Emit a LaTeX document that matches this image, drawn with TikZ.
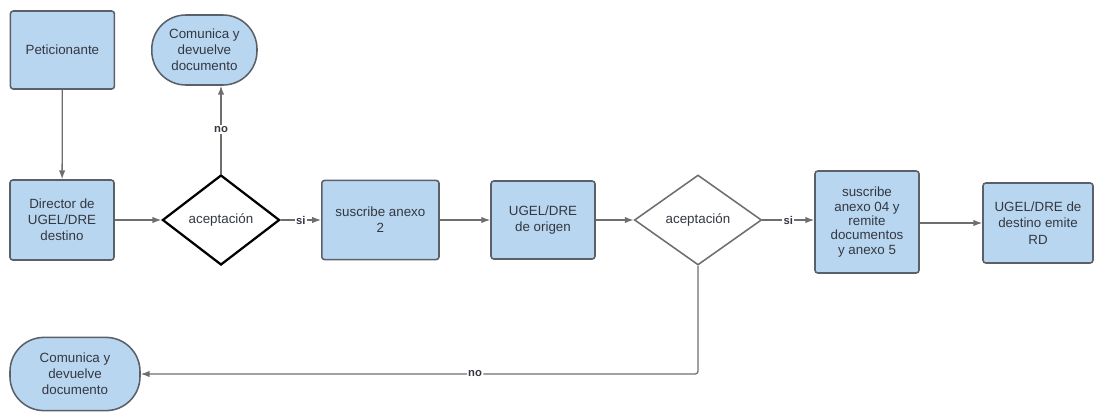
\documentclass[tikz,border=0pt]{standalone}
\usepackage{fontspec}
\setmainfont{Liberation Sans}
\usepackage{xcolor}
\usepackage{tikz}
\usetikzlibrary{arrows.meta,positioning,shapes.geometric,shapes.misc,calc}
\definecolor{FCblue}{HTML}{B9D6F0}
\definecolor{FCedge}{HTML}{5A6068}
\definecolor{FCline}{HTML}{6E6E6E}
\definecolor{FCtext}{HTML}{333840}
\tikzset{
  fc/proceso/.style={draw=FCedge, fill=FCblue, rounded corners=2pt, line width=1.1pt, align=center,
    text=FCtext, font=\fontsize{9.5}{11.5}\selectfont, inner sep=2pt},
  fc/terminal/.style={fc/proceso, rounded corners=8.5mm},
  fc/decision/.style={draw=black, diamond, line width=1.6pt, fill=white, align=center, inner sep=0pt,
    text=FCtext, font=\fontsize{9.5}{11.5}\selectfont},
  fc/decisionb/.style={fc/decision, draw=FCline, line width=1.1pt},
  fc/line/.style={draw=FCline, line width=0.9pt, -{Latex[length=2.2mm,width=1.6mm]}},
  fc/label/.style={font=\fontsize{8}{9}\selectfont\bfseries, text=FCtext, fill=white, inner sep=1pt}
}
\begin{document}
\begin{tikzpicture}
\useasboundingbox (0,0) rectangle (27.35,-10.3);
% nodos
\node[fc/proceso, minimum width=2.6cm, minimum height=1.95cm] (pet) at (1.56,-1.25) {Peticionante};
\node[fc/terminal, minimum width=2.63cm, minimum height=1.75cm] (com1) at (5.11,-1.25) {Comunica y\\devuelve\\documento};
\node[fc/proceso, minimum width=2.6cm, minimum height=2.0cm] (dir) at (1.55,-5.5) {Director de\\UGEL/DRE\\destino};
\node[fc/decision, minimum width=2.93cm, minimum height=2.25cm] (dec1) at (5.525,-5.5) {aceptación};
\node[fc/proceso, minimum width=2.93cm, minimum height=1.98cm] (sus2) at (9.51,-5.5) {suscribe anexo\\2};
\node[fc/proceso, minimum width=2.6cm, minimum height=1.95cm] (orig) at (13.575,-5.5) {UGEL/DRE\\de origen};
\node[fc/decisionb, minimum width=3.18cm, minimum height=2.25cm] (dec2) at (17.45,-5.5) {aceptación};
\node[fc/proceso, minimum width=2.6cm, minimum height=2.55cm, font=\fontsize{9.5}{10.2}\selectfont] (sus4) at (21.675,-5.55) {suscribe\\anexo 04 y\\remite\\documentos\\y anexo 5};
\node[fc/proceso, minimum width=2.75cm, minimum height=2.0cm] (rd) at (25.95,-5.575) {UGEL/DRE de\\destino emite\\RD};
\node[fc/terminal, minimum width=3.25cm, minimum height=1.83cm] (com2) at (1.875,-9.35) {Comunica y\\devuelve\\documento};
% conectores
\draw[fc/line] (pet) -- (dir);
\draw[fc/line] (dir) -- (dec1);
\draw[fc/line] (dec1.north) -- node[fc/label]{no} (dec1.north |- com1.south);
\draw[fc/line] (dec1.east) -- node[fc/label]{si} (sus2.west);
\draw[fc/line] (sus2) -- (orig);
\draw[fc/line] (orig) -- (dec2);
\draw[fc/line] (dec2.east) -- node[fc/label]{si} (sus4.west |- dec2.east);
\draw[fc/line] (sus4.east |- rd.west) -- (rd.west);
\draw[fc/line, rounded corners=2pt] (dec2.south) |- node[fc/label, pos=0.7]{no} (com2.east);
\end{tikzpicture}
\end{document}
